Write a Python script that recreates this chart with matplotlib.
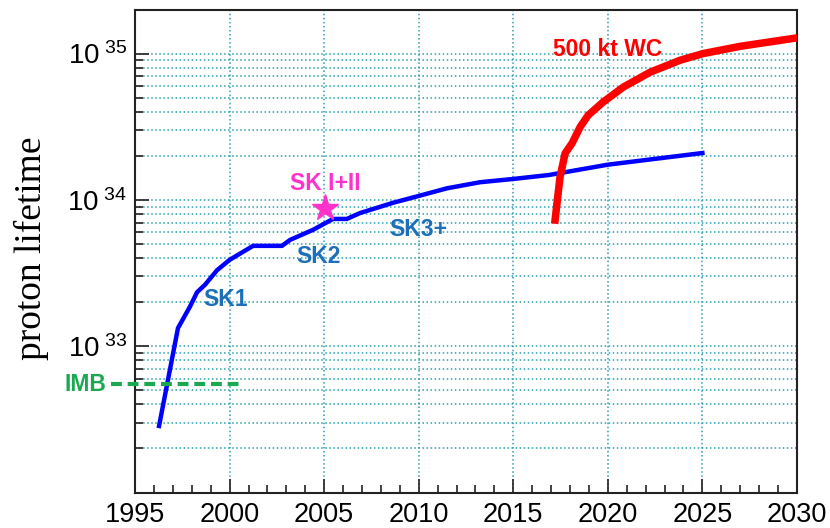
import numpy as np
import matplotlib.pyplot as plt
from matplotlib.ticker import LogLocator, MultipleLocator, NullFormatter

plt.rcParams['font.family'] = ['Liberation Sans', 'DejaVu Sans']
plt.rcParams['mathtext.default'] = 'regular'

# Super-K sensitivity curve
sk_year = [1996.27, 1997.27, 1997.9, 1998.28, 1998.7, 1999.34, 2000.0, 2001.24,
           2002.77, 2003.2, 2004.41, 2005.47, 2006.2, 2006.9, 2008.64, 2010.07,
           2011.5, 2013.24, 2015.0, 2016.9, 2020.0, 2025.0]
sk_life = [2.85e32, 1.33e33, 1.86e33, 2.34e33, 2.63e33, 3.31e33, 3.89e33, 4.85e33,
           4.85e33, 5.33e33, 6.24e33, 7.41e33, 7.41e33, 8.13e33, 9.55e33, 1.07e34,
           1.20e34, 1.32e34, 1.39e34, 1.48e34, 1.74e34, 2.09e34]

# 500 kt water Cherenkov curve
wc_year = [2017.21, 2017.47, 2017.74, 2018.11, 2018.53, 2018.96, 2019.75, 2020.81,
           2022.23, 2023.82, 2025.04, 2026.99, 2030.0]
wc_life = [7.28e33, 1.43e34, 2.08e34, 2.44e34, 3.14e34, 3.79e34, 4.66e34, 5.89e34,
           7.45e34, 9.0e34, 1.0e35, 1.12e35, 1.28e35]

# IMB limit
imb_year = [1993.73, 2000.6]
imb_life = [5.5e32, 5.5e32]

# SK I+II result
star_year = [2005.05]
star_life = [8.8e33]

fig = plt.figure(figsize=(8.3, 5.28), dpi=100)
ax = fig.add_axes([0.1627, 0.0672, 0.7975, 0.9148])

grid_col = '#2a9fb0'
ax.plot(sk_year, sk_life, color='#0000ff', lw=3.2, solid_joinstyle='miter', zorder=3)
ax.plot(wc_year, wc_life, color='#ff0000', lw=5.4, zorder=3)
ax.plot(imb_year, imb_life, color='#1aa850', lw=3.0, ls=(0, (2.6, 1.4)), clip_on=False, zorder=3)
ax.plot(star_year, star_life, marker='*', color='#ff33cc', markersize=20, ls='none', zorder=4)

ax.set_yscale('log')
ax.set_xlim(1995, 2030)
ax.set_ylim(1e32, 2e35)

ax.xaxis.set_major_locator(MultipleLocator(5))
ax.xaxis.set_minor_locator(MultipleLocator(1))
ax.set_yticks([1e33, 1e34, 1e35])
ax.set_yticklabels([r'$10^{\;33}$', r'$10^{\;34}$', r'$10^{\;35}$'], fontsize=20)
ax.yaxis.set_minor_locator(LogLocator(base=10, subs=np.arange(2, 10)))
ax.yaxis.set_minor_formatter(NullFormatter())

ax.tick_params(axis='both', which='both', direction='in', top=False, right=False,
               color='#222222')
ax.tick_params(axis='x', labelsize=19.5, pad=7)
ax.tick_params(axis='y', pad=6)
ax.tick_params(axis='both', which='major', length=10, width=1.2)
ax.tick_params(axis='both', which='minor', length=6, width=1.2)

ax.grid(True, axis='x', which='major', color=grid_col, ls=':', lw=1.1)
ax.grid(True, axis='y', which='both', color=grid_col, ls=':', lw=1.1)

for s in ax.spines.values():
    s.set_color('#222222')
    s.set_linewidth(1.5)

ax.set_ylabel('proton lifetime', family='Liberation Serif', fontsize=27)
ax.yaxis.set_label_coords(-0.13, 0.505)

lab_col = '#1c6fb8'
ax.text(1999.8, 2.1e33, 'SK1', color=lab_col, fontsize=16.5, weight='bold', ha='center', va='center')
ax.text(2004.7, 4.1e33, 'SK2', color=lab_col, fontsize=16.5, weight='bold', ha='center', va='center')
ax.text(2010.0, 6.3e33, 'SK3+', color=lab_col, fontsize=16.5, weight='bold', ha='center', va='center')
ax.text(2005.05, 1.3e34, 'SK I+II', color='#ff33cc', fontsize=16.5, weight='bold', ha='center', va='center')
ax.text(2020.0, 1.06e35, '500 kt WC', color='#ff0000', fontsize=16.5, weight='bold', ha='center', va='center')
ax.text(1992.4, 5.5e32, 'IMB', color='#1aa850', fontsize=16.5, weight='bold', ha='center', va='center',
        clip_on=False)

plt.savefig('out.png', dpi=100)
